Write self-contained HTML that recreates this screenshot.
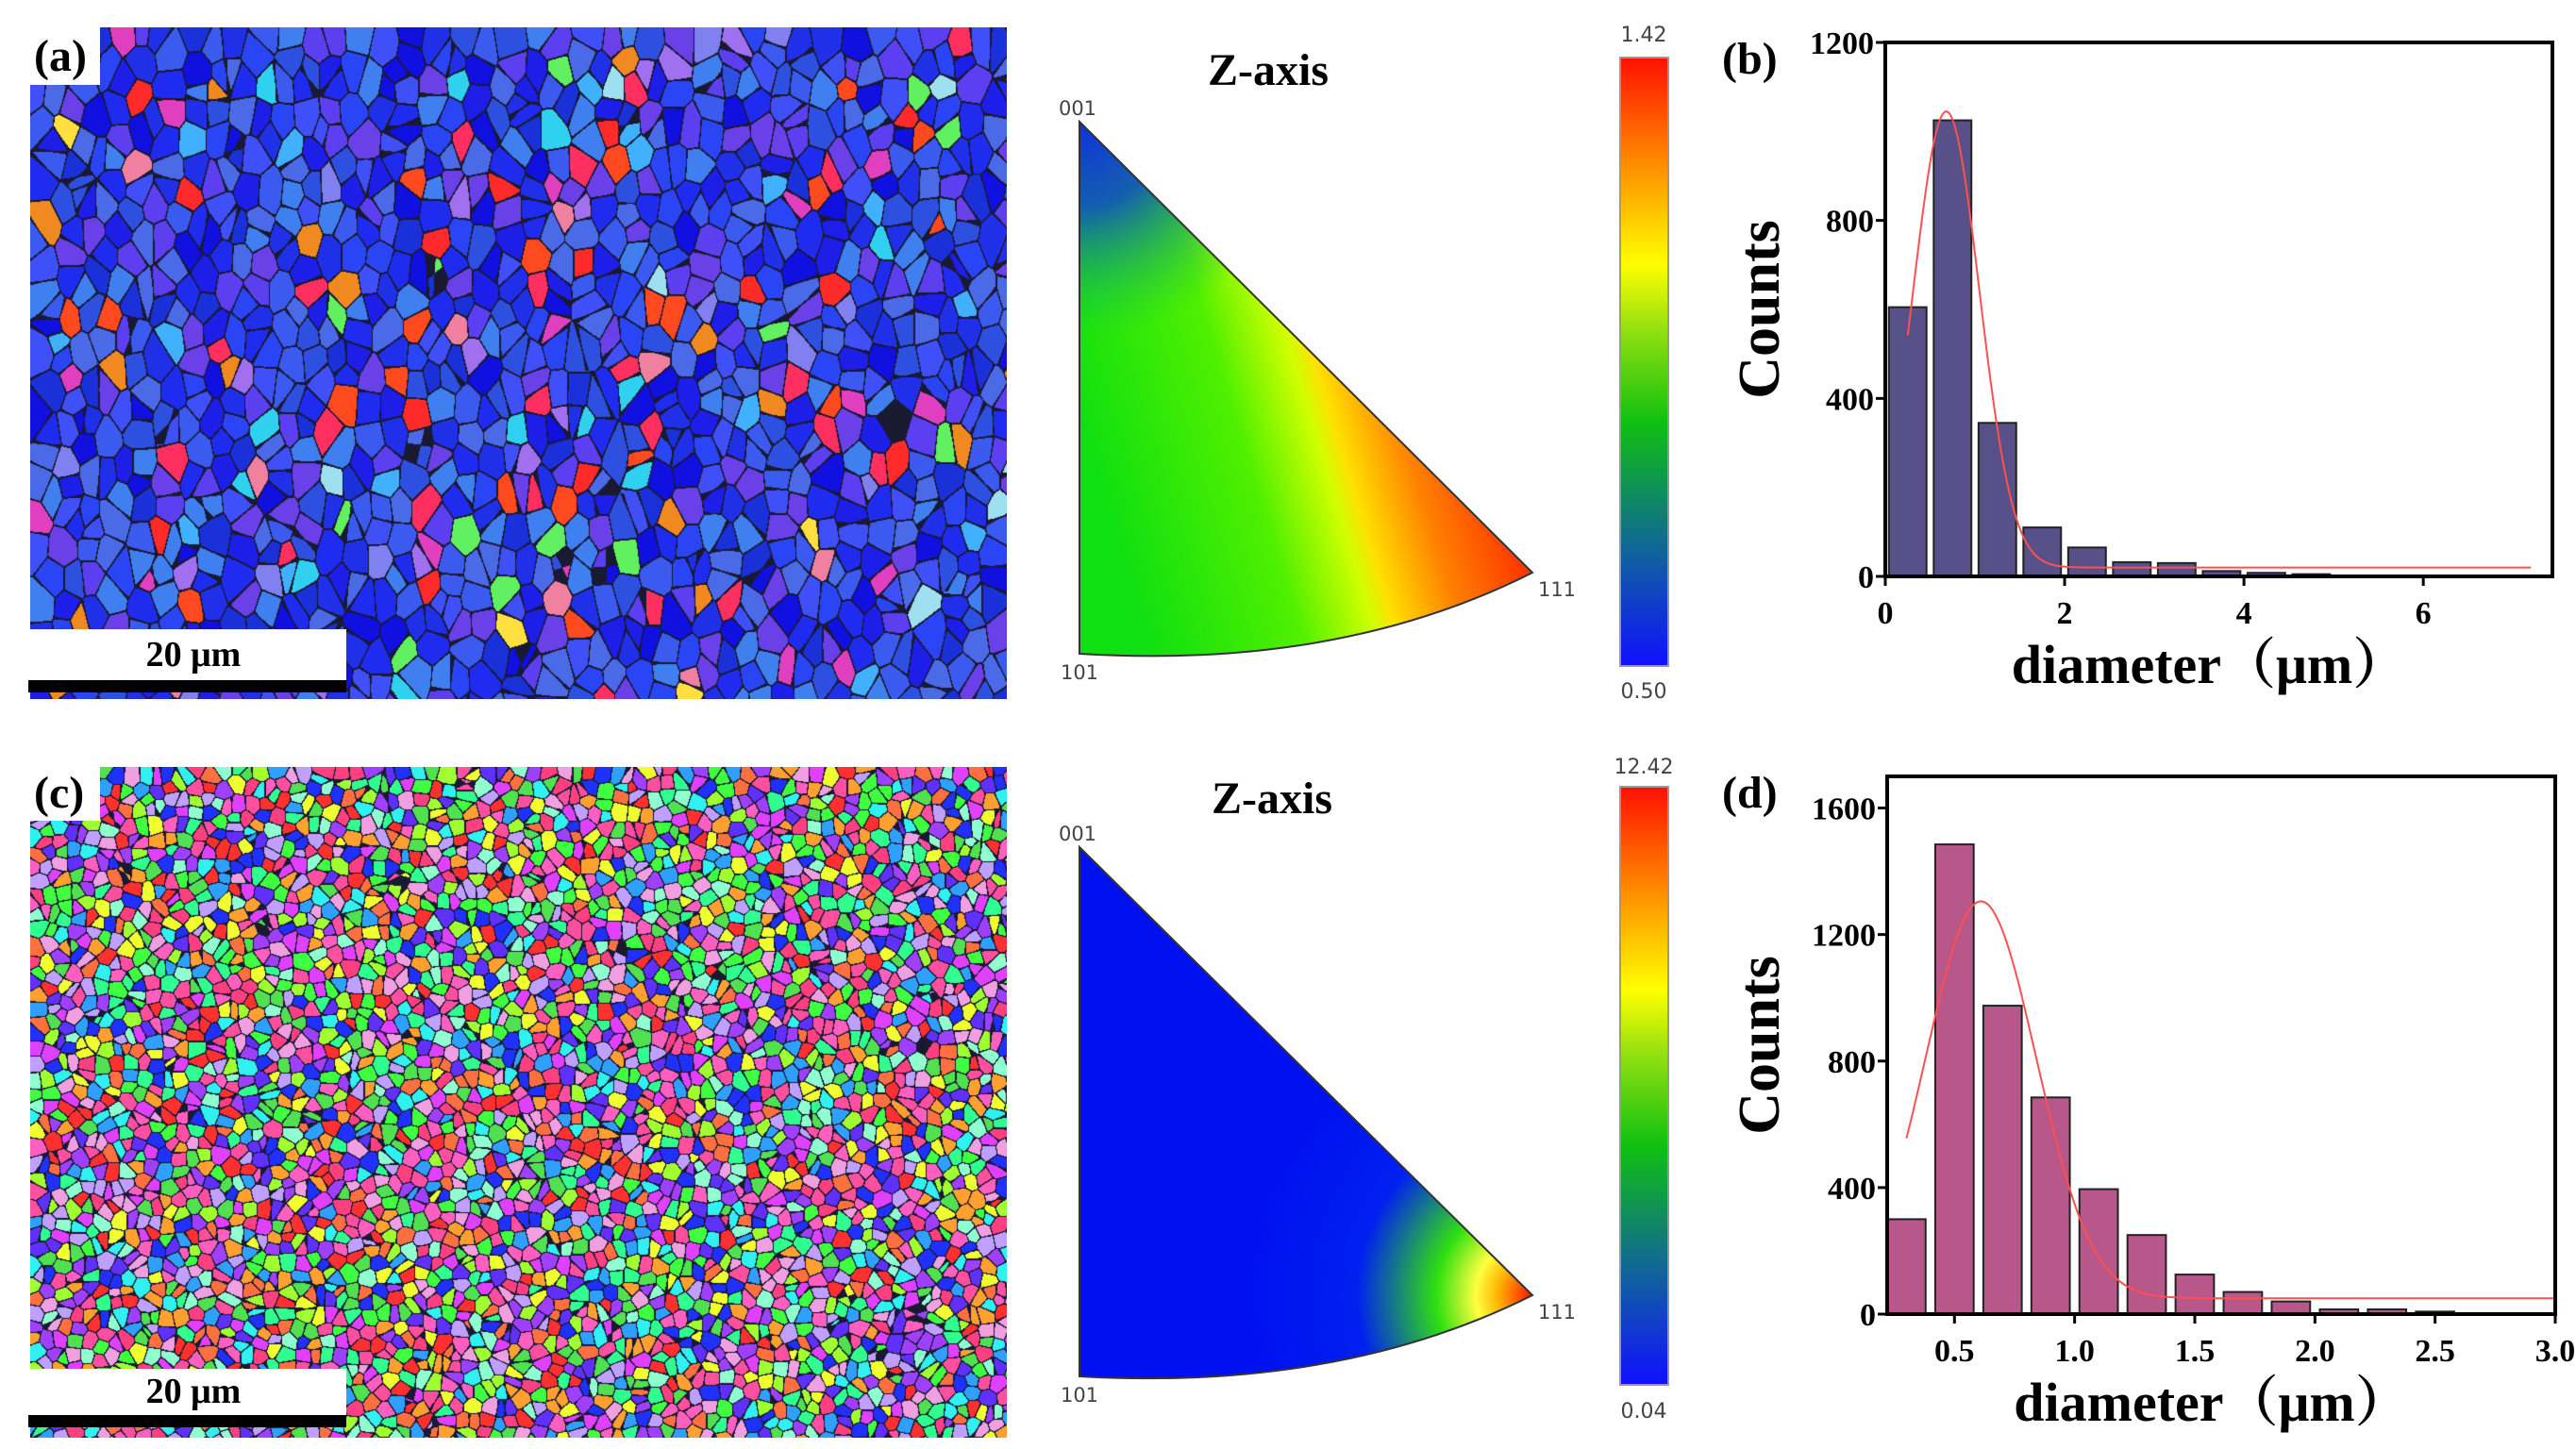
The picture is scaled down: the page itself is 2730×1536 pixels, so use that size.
<!DOCTYPE html>
<html><head><meta charset="utf-8">
<style>
html,body{margin:0;padding:0;background:#fff;}
#root{position:relative;width:2730px;height:1536px;overflow:hidden;background:#fff;}
canvas{position:absolute;}
svg{position:absolute;left:0;top:0;}
</style></head>
<body>
<div id="root">
<canvas id="mapA" width="1035" height="712" style="left:32px;top:29px"></canvas>
<canvas id="mapC" width="1035" height="711" style="left:32px;top:813px"></canvas>
<svg id="svg" width="2730" height="1536" xmlns="http://www.w3.org/2000/svg">
<defs>
<linearGradient id="cbar" x1="0" y1="1" x2="0" y2="0">
<stop offset="0" stop-color="#1010ff"/><stop offset="0.18" stop-color="#1060a0"/>
<stop offset="0.4" stop-color="#10c010"/><stop offset="0.55" stop-color="#90e010"/>
<stop offset="0.66" stop-color="#ffff00"/><stop offset="0.82" stop-color="#ff9000"/>
<stop offset="1" stop-color="#ff1000"/></linearGradient>
<linearGradient id="triA" gradientUnits="userSpaceOnUse" x1="1180" y1="560" x2="1610" y2="430">
<stop offset="0" stop-color="#10e010"/><stop offset="0.35" stop-color="#50f000"/>
<stop offset="0.52" stop-color="#d0ff00"/><stop offset="0.57" stop-color="#ffe000"/>
<stop offset="0.72" stop-color="#ff8000"/><stop offset="1" stop-color="#ff1000"/></linearGradient>
<radialGradient id="triAblue" gradientUnits="userSpaceOnUse" cx="1144" cy="129" r="230">
<stop offset="0" stop-color="#1030e0" stop-opacity="1"/><stop offset="0.4" stop-color="#1050c0" stop-opacity="0.9"/>
<stop offset="1" stop-color="#10c060" stop-opacity="0"/></radialGradient>
<radialGradient id="triC" gradientUnits="userSpaceOnUse" cx="1624" cy="1373" r="300">
<stop offset="0" stop-color="#ff1000"/><stop offset="0.12" stop-color="#ffb000"/>
<stop offset="0.2" stop-color="#ffff40"/><stop offset="0.34" stop-color="#30e010"/>
<stop offset="0.62" stop-color="#0020f0"/><stop offset="1" stop-color="#0010f0"/></radialGradient>
<clipPath id="clipA"><path d="M1144,129 L1624,607 Q1420,710 1144,693 Z"/></clipPath>
<clipPath id="clipC"><path d="M1144,898 L1624,1373 Q1420,1475 1144,1459 Z"/></clipPath>
</defs>

<rect x="32" y="29" width="74" height="61" fill="#fff"/>
<text x="36" y="75" font-family="Liberation Serif, serif" font-weight="bold" font-size="48">(a)</text>
<rect x="30" y="667" width="337" height="67" fill="#fff"/>
<rect x="30" y="721" width="337" height="13" fill="#000"/>
<text x="205" y="706" text-anchor="middle" font-family="Liberation Serif, serif" font-weight="bold" font-size="38">20 μm</text>

<rect x="32" y="813" width="74" height="57" fill="#fff"/>
<text x="36" y="856" font-family="Liberation Serif, serif" font-weight="bold" font-size="48">(c)</text>
<rect x="30" y="1451" width="337" height="62" fill="#fff"/>
<rect x="30" y="1500" width="337" height="13" fill="#000"/>
<text x="205" y="1487" text-anchor="middle" font-family="Liberation Serif, serif" font-weight="bold" font-size="38">20 μm</text>

<text x="1344" y="90" text-anchor="middle" font-family="Liberation Serif, serif" font-weight="bold" font-size="48">Z-axis</text>
<g clip-path="url(#clipA)">
<rect x="1130" y="120" width="510" height="600" fill="url(#triA)"/>
<rect x="1130" y="120" width="510" height="600" fill="url(#triAblue)"/>
</g>
<path d="M1144,129 L1624,607 Q1420,710 1144,693 Z" fill="none" stroke="#333" stroke-width="2"/>
<text x="1142" y="122" text-anchor="middle" font-family="DejaVu Sans, sans-serif" font-size="21" fill="#444">001</text>
<text x="1144" y="720" text-anchor="middle" font-family="DejaVu Sans, sans-serif" font-size="21" fill="#444">101</text>
<text x="1650" y="632" text-anchor="middle" font-family="DejaVu Sans, sans-serif" font-size="21" fill="#444">111</text>
<rect x="1717" y="61" width="51" height="645" fill="url(#cbar)" stroke="#999" stroke-width="2"/>
<text x="1742" y="44" text-anchor="middle" font-family="DejaVu Sans, sans-serif" font-size="22" fill="#444">1.42</text>
<text x="1742" y="740" text-anchor="middle" font-family="DejaVu Sans, sans-serif" font-size="22" fill="#444">0.50</text>

<text x="1348" y="862" text-anchor="middle" font-family="Liberation Serif, serif" font-weight="bold" font-size="48">Z-axis</text>
<g clip-path="url(#clipC)">
<rect x="1130" y="890" width="510" height="590" fill="url(#triC)"/>
</g>
<path d="M1144,898 L1624,1373 Q1420,1475 1144,1459 Z" fill="none" stroke="#333" stroke-width="2"/>
<text x="1142" y="891" text-anchor="middle" font-family="DejaVu Sans, sans-serif" font-size="21" fill="#444">001</text>
<text x="1144" y="1486" text-anchor="middle" font-family="DejaVu Sans, sans-serif" font-size="21" fill="#444">101</text>
<text x="1650" y="1398" text-anchor="middle" font-family="DejaVu Sans, sans-serif" font-size="21" fill="#444">111</text>
<rect x="1717" y="834" width="51" height="634" fill="url(#cbar)" stroke="#999" stroke-width="2"/>
<text x="1742" y="820" text-anchor="middle" font-family="DejaVu Sans, sans-serif" font-size="22" fill="#444">12.42</text>
<text x="1742" y="1503" text-anchor="middle" font-family="DejaVu Sans, sans-serif" font-size="22" fill="#444">0.04</text>

<g id="chartB"></g>
<g id="chartD"></g>
</svg>
</div>
<script>
// ---- chart data ----
const bCenters = [0.25,0.75,1.25,1.75,2.25,2.75,3.25,3.75,4.25,4.75,5.25,5.75];
const bCounts = [605,1025,345,110,65,32,30,12,8,5,2,1];
const bXTicks = [0,2,4,6];
const bYTicks = [0,400,800,1200];
const bFit = [1025,0.68,0.37,20,0.25,7.2]; // amplitude, mean, sigma, baseline, xstart, xend

const dCenters = [0.3,0.5,0.7,0.9,1.1,1.3,1.5,1.7,1.9,2.1,2.3,2.5];
const dCounts = [300,1485,975,685,395,250,125,70,40,15,15,8];
const dXTicks = [0.5,1.0,1.5,2.0,2.5,3.0];
const dYTicks = [0,400,800,1200,1600];
const dFit = [1255,0.61,0.23,50,0.3,3.0];

const NS='http://www.w3.org/2000/svg';
function mk(parent,tag,attrs){const e=document.createElementNS(NS,tag);for(const k in attrs)e.setAttribute(k,attrs[k]);parent.appendChild(e);return e;}

function drawChart(g,cfg){
  const sx=v=>cfg.left+(v-cfg.xmin)/(cfg.xmax-cfg.xmin)*(cfg.right-cfg.left);
  const sy=v=>cfg.bottom-(v-cfg.ymin)/(cfg.ymax-cfg.ymin)*(cfg.bottom-cfg.top);
  cfg.centers.forEach((c,i)=>{
    const x0=sx(c-cfg.bw/2),x1=sx(c+cfg.bw/2),y=sy(cfg.counts[i]);
    const r=mk(g,'rect',{x:x0,y:y,width:x1-x0,height:cfg.bottom-y,fill:cfg.color,stroke:'#222','stroke-width':2});
    
    
  });
  const f=cfg.fit;let d='';
  for(let k=0;k<=300;k++){const x=f[4]+(f[5]-f[4])*k/300;const y=f[0]*Math.exp(-Math.pow(x-f[1],2)/(2*f[2]*f[2]))+f[3];d+=(k?'L':'M')+sx(x).toFixed(1)+','+sy(y).toFixed(1);}
  const p=mk(g,'path',{d:d,fill:'none',stroke:'#ff5050','stroke-width':2});
  
  
  const fr=mk(g,'rect',{x:cfg.left,y:cfg.top,width:cfg.right-cfg.left,height:cfg.bottom-cfg.top,fill:'none',stroke:'#000','stroke-width':4});
  
  
  cfg.xticks.forEach(t=>{
    const x=sx(t);
    mk(g,'line',{x1:x,y1:cfg.bottom,x2:x,y2:cfg.bottom+10,stroke:'#000','stroke-width':3});
    const tx=mk(g,'text',{x:x,y:cfg.bottom+50,'text-anchor':'middle','font-family':'Liberation Serif, serif','font-weight':'bold','font-size':34});
    tx.textContent=cfg.xfmt(t);
    
    
  });
  cfg.yticks.forEach(t=>{
    const y=sy(t);
    mk(g,'line',{x1:cfg.left-10,y1:y,x2:cfg.left,y2:y,stroke:'#000','stroke-width':3});
    const ty=mk(g,'text',{x:cfg.left-12,y:y+12,'text-anchor':'end','font-family':'Liberation Serif, serif','font-weight':'bold','font-size':34});
    ty.textContent=t;
    
    
  });
  const xl=mk(g,'text',{x:(cfg.left+cfg.right)/2-10,y:cfg.bottom+113,'text-anchor':'middle','font-family':'Liberation Serif, "Noto Serif CJK SC", serif','font-weight':'bold','font-size':58});
  xl.textContent='diameter（μm）';
  
  
  const cy=(cfg.top+cfg.bottom)/2;
  const yl=mk(g,'text',{x:1885,y:cy,'text-anchor':'middle','font-family':'Liberation Serif, serif','font-weight':'bold','font-size':62,transform:'rotate(-90 1885 '+cy+')'});
  yl.textContent='Counts';
  
  
  const pl=mk(g,'text',{x:1825,y:cfg.top+33,'font-family':'Liberation Serif, serif','font-weight':'bold','font-size':48});
  pl.textContent=cfg.label;
  
  
}
drawChart(document.getElementById('chartB'),{left:1998,right:2705,top:45,bottom:611,xmin:0,xmax:7.44,ymin:0,ymax:1200,
  centers:bCenters,counts:bCounts,bw:0.42,color:'#585088',fit:bFit,xticks:bXTicks,yticks:bYTicks,xfmt:t=>String(t),label:'(b)'});
drawChart(document.getElementById('chartD'),{left:2000,right:2708,top:823,bottom:1393,xmin:0.22,xmax:3.0,ymin:0,ymax:1700,
  centers:dCenters,counts:dCounts,bw:0.16,color:'#b8578a',fit:dFit,xticks:dXTicks,yticks:dYTicks,xfmt:t=>t.toFixed(1),label:'(d)'});

// ---- EBSD maps: Voronoi texture ----
let seed=12345;function rnd(){seed=(seed*1103515245+12345)&0x7fffffff;return seed/0x7fffffff;}
function hex(h){return [parseInt(h.substr(1,2),16),parseInt(h.substr(3,2),16),parseInt(h.substr(5,2),16)];}
function voronoi(id,W,H,S,yScale,pick,bw){
  const ctx=document.getElementById(id).getContext('2d');
  const gw=Math.ceil(W/S)+1,gh=Math.ceil(H/S)+1;
  const sx=[],sy=[],col=[];
  for(let j=0;j<gh;j++)for(let i=0;i<gw;i++){sx.push((i+rnd())*S);sy.push((j+rnd())*S);col.push(hex(pick()));}
  const img=ctx.createImageData(W,H);const D=img.data;
  for(let y=0;y<H;y++){const gy=Math.floor(y/S);
    for(let x=0;x<W;x++){const gx=Math.floor(x/S);
      let d1=1e9,d2=1e9,b=0;
      for(let dj=-1;dj<=1;dj++){const jj=gy+dj;if(jj<0||jj>=gh)continue;
        for(let di=-1;di<=1;di++){const ii=gx+di;if(ii<0||ii>=gw)continue;
          const k=jj*gw+ii;const dx=sx[k]-x,dy=(sy[k]-y)*yScale;const d=dx*dx+dy*dy;
          if(d<d1){d2=d1;d1=d;b=k;}else if(d<d2)d2=d;}}
      const p=(y*W+x)*4;
      if(Math.sqrt(d2)-Math.sqrt(d1)<bw){D[p]=25;D[p+1]=25;D[p+2]=50;}
      else{const c=col[b];D[p]=c[0];D[p+1]=c[1];D[p+2]=c[2];}
      D[p+3]=255;}}
  ctx.putImageData(img,0,0);
}
(function(){
  const blues=['#1f2cf0','#2a45f5','#3a5af0','#1d1ee8','#4a6ae8','#5b3ff0','#6a40e8','#3f7ff0','#2e50e0','#1a30d8','#4050f8','#2030e8','#1010e0'];
  const acc=['#ff2a2a','#ff4a20','#f08a20','#30d0f0','#8080f0','#a070f0','#e040c0','#60f060','#ffe040','#9fe0f0','#f080a0','#ff3060','#40b0ff'];
  seed=777;
  voronoi('mapA',1035,712,26,0.7,()=>rnd()<0.85?blues[Math.floor(rnd()*blues.length)]:acc[Math.floor(rnd()*acc.length)],1.3);
  const pal=['#ff3030','#ff4080','#ff60c0','#e040ff','#a040ff','#6030ff','#2030ff','#30a0ff','#30f0f0','#30ff90','#40ff40','#a0ff30','#f0ff30','#ffa030','#ff7040','#f0a0e0','#c0a0ff','#90ffd0','#ff50a0','#50e050'];
  seed=4242;
  voronoi('mapC',1035,711,14,1,()=>pal[Math.floor(rnd()*pal.length)],1.2);
})();
</script>
</body></html>
